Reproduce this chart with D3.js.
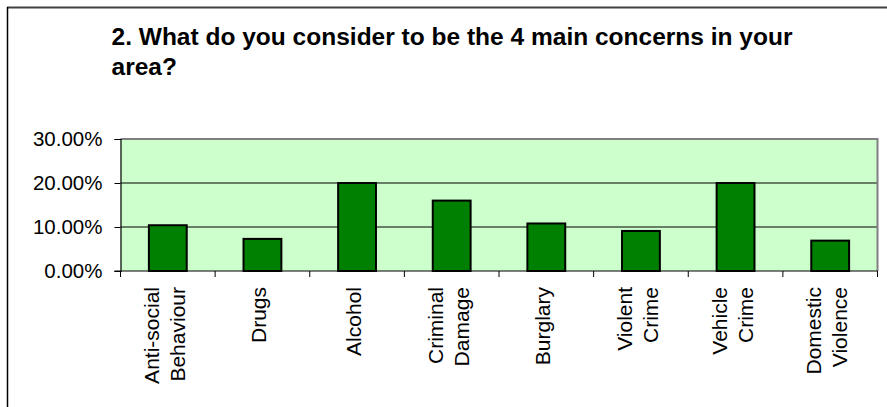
<!DOCTYPE html>
<html>
<head>
<meta charset="utf-8">
<script src="https://cdn.jsdelivr.net/npm/d3@7"></script>
<style>
  html, body { margin: 0; padding: 0; background: #ffffff; }
  svg { display: block; font-family: Arial, "Liberation Sans", sans-serif; }
</style>
</head>
<body>
<svg id="chart" width="887" height="407"></svg>
<script>
const titleLines = ["2. What do you consider to be the 4 main concerns in your", "area?"];
const categories = ["Anti-social Behaviour", "Drugs", "Alcohol", "Criminal Damage", "Burglary", "Violent Crime", "Vehicle Crime", "Domestic Violence"];
const categoryLines = [["Anti-social", "Behaviour"], ["Drugs"], ["Alcohol"], ["Criminal", "Damage"], ["Burglary"], ["Violent", "Crime"], ["Vehicle", "Crime"], ["Domestic", "Violence"]];
const values = [0.104, 0.073, 0.200, 0.160, 0.108, 0.091, 0.200, 0.069];
const yTicks = [0, 0.10, 0.20, 0.30];

const svg = d3.select("#chart");
const W = 887, H = 407;
const plot = { left: 120.5, right: 877.5, top: 139, bottom: 271 };

// outer frame (extends past the canvas on right/bottom)
svg.append("line").attr("x1", 7).attr("x2", W + 5).attr("y1", 7.5).attr("y2", 7.5)
  .attr("stroke", "#404040").attr("stroke-width", 2);
svg.append("line").attr("x1", 7.5).attr("x2", 7.5).attr("y1", 7).attr("y2", H + 5)
  .attr("stroke", "#000").attr("stroke-width", 1.5);

// title
const title = svg.append("text").attr("x", 111.5).attr("y", 45)
  .attr("font-size", 23).attr("font-weight", "bold").attr("fill", "#000");
titleLines.forEach((t, i) => {
  const ts = title.append("tspan").attr("x", 111.5).attr("y", 45 + i * 30).text(t);
  if (i === 0) ts.attr("textLength", 681).attr("lengthAdjust", "spacingAndGlyphs");
});
// scale second line consistently with first
(function () {
  const first = title.select("tspan").node();
  const natural = first.getComputedTextLength ? null : null;
})();

const x = d3.scaleBand().domain(categories).range([plot.left, plot.right]).padding(0);
const y = d3.scaleLinear().domain([0, 0.3]).range([plot.bottom, plot.top]);

// plot background
svg.append("rect").attr("x", plot.left).attr("y", plot.top)
  .attr("width", plot.right - plot.left).attr("height", plot.bottom - plot.top)
  .attr("fill", "#CCFFCC");

// gridlines
svg.append("g").selectAll("line").data(yTicks.filter(d => d > 0 && d < 0.3)).join("line")
  .attr("x1", plot.left).attr("x2", plot.right)
  .attr("y1", d => y(d)).attr("y2", d => y(d))
  .attr("stroke", "#000").attr("stroke-width", 1);

// plot border top/right
svg.append("path")
  .attr("d", `M${plot.left},${plot.top}H${plot.right}V${plot.bottom}`)
  .attr("fill", "none").attr("stroke", "#808080").attr("stroke-width", 2);

// bars
const bw = x.bandwidth();
svg.append("g").selectAll("rect").data(categories).join("rect")
  .attr("x", d => x(d) + bw * 0.3)
  .attr("width", bw * 0.4)
  .attr("y", (d, i) => y(values[i]))
  .attr("height", (d, i) => y(0) - y(values[i]))
  .attr("fill", "#008000").attr("stroke", "#000").attr("stroke-width", 2);

// y axis
const yAxis = svg.append("g").attr("transform", `translate(${plot.left},0)`)
  .call(d3.axisLeft(y).tickValues(yTicks).tickFormat(d3.format(".2%")).tickSize(6).tickPadding(12));
yAxis.select(".domain").attr("stroke", "#000").attr("stroke-width", 1.2);
yAxis.selectAll(".tick line").attr("stroke", "#000");
yAxis.selectAll(".tick text").attr("font-size", 20.5).attr("font-family", "Arial, 'Liberation Sans', sans-serif").attr("fill", "#000");

// x axis
const xAxis = svg.append("g");
xAxis.append("line").attr("x1", plot.left - 6).attr("x2", plot.right)
  .attr("y1", plot.bottom).attr("y2", plot.bottom).attr("stroke", "#000").attr("stroke-width", 1.2);
const boundaries = categories.map(d => x(d)).concat([x(categories[categories.length - 1]) + bw]);
xAxis.selectAll("line.tk").data(boundaries).join("line").attr("class", "tk")
  .attr("x1", d => d).attr("x2", d => d)
  .attr("y1", plot.bottom).attr("y2", plot.bottom + 6)
  .attr("stroke", "#000");

// category labels (rotated)
const lineGap = 26;
categories.forEach((c, i) => {
  const cx = x(c) + bw / 2;
  const lines = categoryLines[i];
  const g = svg.append("g").attr("transform", `translate(${cx},287) rotate(-90)`);
  lines.forEach((ln, j) => {
    const off = 4 + (j - (lines.length - 1) / 2) * lineGap;
    g.append("text").attr("x", 0).attr("y", off)
      .attr("text-anchor", "end").attr("font-size", 21).attr("fill", "#000")
      .text(ln);
  });
});

// second title line: match horizontal scale of the first
(function () {
  const ts = title.selectAll("tspan").nodes();
  const probe = svg.append("text").attr("font-size", 23).attr("font-weight", "bold").text(titleLines[0]);
  const nat = probe.node().getComputedTextLength();
  probe.text(titleLines[1]);
  const nat2 = probe.node().getComputedTextLength();
  probe.remove();
  d3.select(ts[1]).attr("textLength", nat2 * 681 / nat).attr("lengthAdjust", "spacingAndGlyphs");
})();
</script>
</body>
</html>
